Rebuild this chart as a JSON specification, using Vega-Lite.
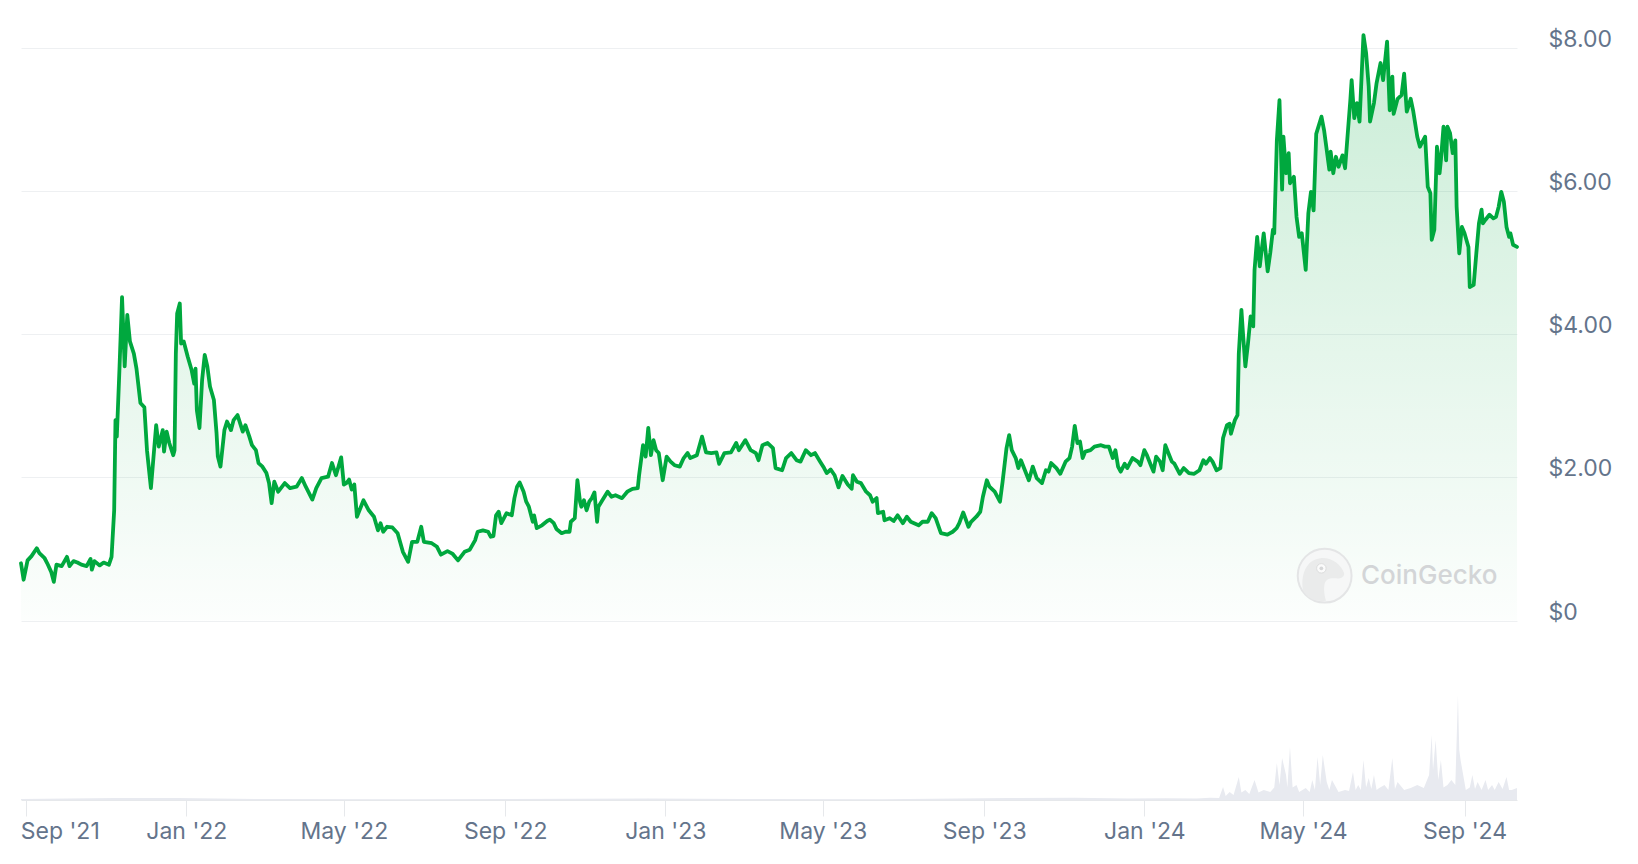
{
  "$schema": "https://vega.github.io/schema/vega-lite/v6.json",
  "width": 1496,
  "height": 780,
  "autosize": {"type": "none"},
  "padding": {"left": 21, "top": 20, "right": 121, "bottom": 64},
  "background": "#ffffff",
  "config": {"view": {"stroke": null}, "font": "Inter"},
  "datasets": {
    "price": [
      {"date": "2021-08-28", "price": 0.80}, {"date": "2021-08-30", "price": 0.57}, {"date": "2021-09-02", "price": 0.84},
      {"date": "2021-09-05", "price": 0.90}, {"date": "2021-09-09", "price": 1.01}, {"date": "2021-09-11", "price": 0.94},
      {"date": "2021-09-15", "price": 0.87}, {"date": "2021-09-17", "price": 0.80}, {"date": "2021-09-20", "price": 0.68},
      {"date": "2021-09-22", "price": 0.54}, {"date": "2021-09-24", "price": 0.78}, {"date": "2021-09-28", "price": 0.76},
      {"date": "2021-10-02", "price": 0.89}, {"date": "2021-10-04", "price": 0.76}, {"date": "2021-10-07", "price": 0.83},
      {"date": "2021-10-10", "price": 0.81}, {"date": "2021-10-13", "price": 0.78}, {"date": "2021-10-17", "price": 0.76},
      {"date": "2021-10-20", "price": 0.86}, {"date": "2021-10-21", "price": 0.71}, {"date": "2021-10-23", "price": 0.83},
      {"date": "2021-10-27", "price": 0.77}, {"date": "2021-10-30", "price": 0.81}, {"date": "2021-11-03", "price": 0.78},
      {"date": "2021-11-05", "price": 0.89}, {"date": "2021-11-07", "price": 1.54}, {"date": "2021-11-08", "price": 2.80},
      {"date": "2021-11-09", "price": 2.57}, {"date": "2021-11-11", "price": 3.50}, {"date": "2021-11-13", "price": 4.52},
      {"date": "2021-11-15", "price": 3.55}, {"date": "2021-11-17", "price": 4.27}, {"date": "2021-11-19", "price": 3.90},
      {"date": "2021-11-22", "price": 3.73}, {"date": "2021-11-24", "price": 3.52}, {"date": "2021-11-27", "price": 3.04},
      {"date": "2021-11-30", "price": 2.98}, {"date": "2021-12-02", "price": 2.38}, {"date": "2021-12-05", "price": 1.85},
      {"date": "2021-12-07", "price": 2.29}, {"date": "2021-12-09", "price": 2.73}, {"date": "2021-12-11", "price": 2.43},
      {"date": "2021-12-14", "price": 2.66}, {"date": "2021-12-15", "price": 2.36}, {"date": "2021-12-17", "price": 2.64},
      {"date": "2021-12-19", "price": 2.48}, {"date": "2021-12-22", "price": 2.31}, {"date": "2021-12-23", "price": 2.38},
      {"date": "2021-12-24", "price": 3.73}, {"date": "2021-12-25", "price": 4.29}, {"date": "2021-12-27", "price": 4.43},
      {"date": "2021-12-28", "price": 3.87}, {"date": "2021-12-30", "price": 3.90}, {"date": "2022-01-02", "price": 3.69},
      {"date": "2022-01-05", "price": 3.50}, {"date": "2022-01-07", "price": 3.31}, {"date": "2022-01-08", "price": 3.52},
      {"date": "2022-01-09", "price": 2.94}, {"date": "2022-01-11", "price": 2.69}, {"date": "2022-01-13", "price": 3.36},
      {"date": "2022-01-15", "price": 3.71}, {"date": "2022-01-17", "price": 3.55}, {"date": "2022-01-19", "price": 3.27},
      {"date": "2022-01-22", "price": 3.08}, {"date": "2022-01-24", "price": 2.62}, {"date": "2022-01-25", "price": 2.29},
      {"date": "2022-01-27", "price": 2.15}, {"date": "2022-01-30", "price": 2.66}, {"date": "2022-02-01", "price": 2.78},
      {"date": "2022-02-04", "price": 2.66}, {"date": "2022-02-06", "price": 2.80}, {"date": "2022-02-09", "price": 2.87},
      {"date": "2022-02-13", "price": 2.64}, {"date": "2022-02-15", "price": 2.73}, {"date": "2022-02-18", "price": 2.57},
      {"date": "2022-02-20", "price": 2.45}, {"date": "2022-02-23", "price": 2.38}, {"date": "2022-02-25", "price": 2.20},
      {"date": "2022-02-28", "price": 2.15}, {"date": "2022-03-03", "price": 2.06}, {"date": "2022-03-05", "price": 1.92},
      {"date": "2022-03-07", "price": 1.64}, {"date": "2022-03-09", "price": 1.94}, {"date": "2022-03-12", "price": 1.80},
      {"date": "2022-03-17", "price": 1.92}, {"date": "2022-03-21", "price": 1.85}, {"date": "2022-03-26", "price": 1.87},
      {"date": "2022-03-30", "price": 1.99}, {"date": "2022-04-02", "price": 1.87}, {"date": "2022-04-07", "price": 1.69},
      {"date": "2022-04-10", "price": 1.85}, {"date": "2022-04-14", "price": 1.99}, {"date": "2022-04-19", "price": 2.01},
      {"date": "2022-04-22", "price": 2.20}, {"date": "2022-04-25", "price": 2.03}, {"date": "2022-04-29", "price": 2.28},
      {"date": "2022-05-01", "price": 1.90}, {"date": "2022-05-03", "price": 1.92}, {"date": "2022-05-05", "price": 1.97},
      {"date": "2022-05-07", "price": 1.83}, {"date": "2022-05-09", "price": 1.90}, {"date": "2022-05-11", "price": 1.45},
      {"date": "2022-05-16", "price": 1.68}, {"date": "2022-05-20", "price": 1.54}, {"date": "2022-05-24", "price": 1.45},
      {"date": "2022-05-27", "price": 1.26}, {"date": "2022-05-29", "price": 1.36}, {"date": "2022-05-31", "price": 1.24},
      {"date": "2022-06-03", "price": 1.31}, {"date": "2022-06-07", "price": 1.30}, {"date": "2022-06-11", "price": 1.22},
      {"date": "2022-06-15", "price": 0.96}, {"date": "2022-06-19", "price": 0.82}, {"date": "2022-06-22", "price": 1.10},
      {"date": "2022-06-26", "price": 1.10}, {"date": "2022-06-29", "price": 1.31}, {"date": "2022-07-01", "price": 1.10},
      {"date": "2022-07-07", "price": 1.08}, {"date": "2022-07-11", "price": 1.03}, {"date": "2022-07-14", "price": 0.92},
      {"date": "2022-07-19", "price": 0.97}, {"date": "2022-07-23", "price": 0.93}, {"date": "2022-07-27", "price": 0.84},
      {"date": "2022-08-01", "price": 0.96}, {"date": "2022-08-05", "price": 0.99}, {"date": "2022-08-09", "price": 1.12},
      {"date": "2022-08-11", "price": 1.24}, {"date": "2022-08-15", "price": 1.26}, {"date": "2022-08-19", "price": 1.24},
      {"date": "2022-08-21", "price": 1.17}, {"date": "2022-08-23", "price": 1.18}, {"date": "2022-08-25", "price": 1.47},
      {"date": "2022-08-27", "price": 1.52}, {"date": "2022-08-29", "price": 1.36}, {"date": "2022-09-02", "price": 1.50},
      {"date": "2022-09-06", "price": 1.47}, {"date": "2022-09-08", "price": 1.71}, {"date": "2022-09-10", "price": 1.87},
      {"date": "2022-09-12", "price": 1.93}, {"date": "2022-09-15", "price": 1.80}, {"date": "2022-09-17", "price": 1.66},
      {"date": "2022-09-19", "price": 1.59}, {"date": "2022-09-22", "price": 1.38}, {"date": "2022-09-23", "price": 1.47},
      {"date": "2022-09-25", "price": 1.29}, {"date": "2022-09-29", "price": 1.33}, {"date": "2022-10-03", "price": 1.39},
      {"date": "2022-10-05", "price": 1.41}, {"date": "2022-10-08", "price": 1.36}, {"date": "2022-10-10", "price": 1.28},
      {"date": "2022-10-14", "price": 1.22}, {"date": "2022-10-17", "price": 1.24}, {"date": "2022-10-20", "price": 1.24},
      {"date": "2022-10-21", "price": 1.38}, {"date": "2022-10-24", "price": 1.43}, {"date": "2022-10-26", "price": 1.96},
      {"date": "2022-10-28", "price": 1.66}, {"date": "2022-10-29", "price": 1.59}, {"date": "2022-10-31", "price": 1.68},
      {"date": "2022-11-02", "price": 1.54}, {"date": "2022-11-04", "price": 1.66}, {"date": "2022-11-06", "price": 1.71},
      {"date": "2022-11-08", "price": 1.79}, {"date": "2022-11-10", "price": 1.38}, {"date": "2022-11-11", "price": 1.59},
      {"date": "2022-11-14", "price": 1.68}, {"date": "2022-11-18", "price": 1.80}, {"date": "2022-11-21", "price": 1.73},
      {"date": "2022-11-24", "price": 1.75}, {"date": "2022-11-29", "price": 1.71}, {"date": "2022-12-03", "price": 1.80},
      {"date": "2022-12-07", "price": 1.84}, {"date": "2022-12-11", "price": 1.85}, {"date": "2022-12-12", "price": 2.03},
      {"date": "2022-12-15", "price": 2.45}, {"date": "2022-12-17", "price": 2.29}, {"date": "2022-12-19", "price": 2.69},
      {"date": "2022-12-21", "price": 2.31}, {"date": "2022-12-23", "price": 2.52}, {"date": "2022-12-25", "price": 2.38},
      {"date": "2022-12-27", "price": 2.34}, {"date": "2022-12-30", "price": 1.96}, {"date": "2023-01-02", "price": 2.29},
      {"date": "2023-01-05", "price": 2.22}, {"date": "2023-01-08", "price": 2.17}, {"date": "2023-01-12", "price": 2.15},
      {"date": "2023-01-15", "price": 2.27}, {"date": "2023-01-18", "price": 2.34}, {"date": "2023-01-20", "price": 2.27},
      {"date": "2023-01-25", "price": 2.31}, {"date": "2023-01-29", "price": 2.57}, {"date": "2023-02-01", "price": 2.35},
      {"date": "2023-02-05", "price": 2.34}, {"date": "2023-02-09", "price": 2.35}, {"date": "2023-02-11", "price": 2.19},
      {"date": "2023-02-15", "price": 2.34}, {"date": "2023-02-20", "price": 2.35}, {"date": "2023-02-24", "price": 2.48},
      {"date": "2023-02-26", "price": 2.38}, {"date": "2023-03-03", "price": 2.52}, {"date": "2023-03-07", "price": 2.38},
      {"date": "2023-03-11", "price": 2.34}, {"date": "2023-03-13", "price": 2.24}, {"date": "2023-03-16", "price": 2.45},
      {"date": "2023-03-20", "price": 2.48}, {"date": "2023-03-24", "price": 2.41}, {"date": "2023-03-26", "price": 2.13},
      {"date": "2023-03-31", "price": 2.10}, {"date": "2023-04-03", "price": 2.27}, {"date": "2023-04-07", "price": 2.34},
      {"date": "2023-04-11", "price": 2.24}, {"date": "2023-04-14", "price": 2.22}, {"date": "2023-04-18", "price": 2.38},
      {"date": "2023-04-22", "price": 2.31}, {"date": "2023-04-25", "price": 2.34}, {"date": "2023-04-29", "price": 2.22},
      {"date": "2023-05-02", "price": 2.13}, {"date": "2023-05-04", "price": 2.06}, {"date": "2023-05-07", "price": 2.11},
      {"date": "2023-05-10", "price": 2.03}, {"date": "2023-05-13", "price": 1.86}, {"date": "2023-05-16", "price": 2.02},
      {"date": "2023-05-20", "price": 1.90}, {"date": "2023-05-23", "price": 1.84}, {"date": "2023-05-24", "price": 2.03},
      {"date": "2023-05-27", "price": 1.94}, {"date": "2023-05-30", "price": 1.92}, {"date": "2023-06-03", "price": 1.80},
      {"date": "2023-06-06", "price": 1.75}, {"date": "2023-06-08", "price": 1.66}, {"date": "2023-06-11", "price": 1.71},
      {"date": "2023-06-12", "price": 1.50}, {"date": "2023-06-16", "price": 1.52}, {"date": "2023-06-17", "price": 1.40},
      {"date": "2023-06-21", "price": 1.43}, {"date": "2023-06-24", "price": 1.39}, {"date": "2023-06-27", "price": 1.47},
      {"date": "2023-07-01", "price": 1.36}, {"date": "2023-07-04", "price": 1.45}, {"date": "2023-07-07", "price": 1.38},
      {"date": "2023-07-13", "price": 1.33}, {"date": "2023-07-16", "price": 1.38}, {"date": "2023-07-20", "price": 1.38},
      {"date": "2023-07-23", "price": 1.50}, {"date": "2023-07-26", "price": 1.43}, {"date": "2023-07-30", "price": 1.22},
      {"date": "2023-08-04", "price": 1.20}, {"date": "2023-08-08", "price": 1.24}, {"date": "2023-08-11", "price": 1.29},
      {"date": "2023-08-13", "price": 1.36}, {"date": "2023-08-16", "price": 1.51}, {"date": "2023-08-20", "price": 1.31},
      {"date": "2023-08-22", "price": 1.38}, {"date": "2023-08-26", "price": 1.45}, {"date": "2023-08-29", "price": 1.52},
      {"date": "2023-08-31", "price": 1.73}, {"date": "2023-09-03", "price": 1.96}, {"date": "2023-09-05", "price": 1.87},
      {"date": "2023-09-09", "price": 1.80}, {"date": "2023-09-13", "price": 1.66}, {"date": "2023-09-15", "price": 1.94},
      {"date": "2023-09-18", "price": 2.41}, {"date": "2023-09-20", "price": 2.59}, {"date": "2023-09-22", "price": 2.38},
      {"date": "2023-09-25", "price": 2.27}, {"date": "2023-09-27", "price": 2.13}, {"date": "2023-09-29", "price": 2.24},
      {"date": "2023-10-02", "price": 2.10}, {"date": "2023-10-05", "price": 1.96}, {"date": "2023-10-08", "price": 2.15},
      {"date": "2023-10-11", "price": 1.99}, {"date": "2023-10-15", "price": 1.92}, {"date": "2023-10-18", "price": 2.10},
      {"date": "2023-10-20", "price": 2.08}, {"date": "2023-10-22", "price": 2.20}, {"date": "2023-10-26", "price": 2.13},
      {"date": "2023-10-29", "price": 2.05}, {"date": "2023-11-02", "price": 2.22}, {"date": "2023-11-05", "price": 2.27},
      {"date": "2023-11-07", "price": 2.43}, {"date": "2023-11-09", "price": 2.72}, {"date": "2023-11-11", "price": 2.48},
      {"date": "2023-11-13", "price": 2.50}, {"date": "2023-11-15", "price": 2.27}, {"date": "2023-11-17", "price": 2.36},
      {"date": "2023-11-21", "price": 2.38}, {"date": "2023-11-24", "price": 2.43}, {"date": "2023-11-29", "price": 2.45},
      {"date": "2023-12-02", "price": 2.43}, {"date": "2023-12-05", "price": 2.43}, {"date": "2023-12-08", "price": 2.27},
      {"date": "2023-12-10", "price": 2.38}, {"date": "2023-12-12", "price": 2.15}, {"date": "2023-12-14", "price": 2.08},
      {"date": "2023-12-17", "price": 2.19}, {"date": "2023-12-19", "price": 2.13}, {"date": "2023-12-23", "price": 2.27},
      {"date": "2023-12-27", "price": 2.22}, {"date": "2023-12-29", "price": 2.17}, {"date": "2024-01-01", "price": 2.38},
      {"date": "2024-01-03", "price": 2.31}, {"date": "2024-01-06", "price": 2.17}, {"date": "2024-01-08", "price": 2.08},
      {"date": "2024-01-10", "price": 2.29}, {"date": "2024-01-13", "price": 2.22}, {"date": "2024-01-15", "price": 2.10},
      {"date": "2024-01-17", "price": 2.45}, {"date": "2024-01-20", "price": 2.31}, {"date": "2024-01-22", "price": 2.22},
      {"date": "2024-01-24", "price": 2.19}, {"date": "2024-01-28", "price": 2.05}, {"date": "2024-01-31", "price": 2.13},
      {"date": "2024-02-04", "price": 2.06}, {"date": "2024-02-08", "price": 2.05}, {"date": "2024-02-12", "price": 2.10},
      {"date": "2024-02-15", "price": 2.24}, {"date": "2024-02-17", "price": 2.19}, {"date": "2024-02-20", "price": 2.27},
      {"date": "2024-02-22", "price": 2.22}, {"date": "2024-02-25", "price": 2.10}, {"date": "2024-02-28", "price": 2.13},
      {"date": "2024-03-01", "price": 2.55}, {"date": "2024-03-04", "price": 2.73}, {"date": "2024-03-06", "price": 2.75},
      {"date": "2024-03-07", "price": 2.61}, {"date": "2024-03-10", "price": 2.80}, {"date": "2024-03-12", "price": 2.87},
      {"date": "2024-03-13", "price": 3.73}, {"date": "2024-03-15", "price": 4.34}, {"date": "2024-03-16", "price": 4.06},
      {"date": "2024-03-18", "price": 3.55}, {"date": "2024-03-20", "price": 3.87}, {"date": "2024-03-22", "price": 4.25},
      {"date": "2024-03-24", "price": 4.11}, {"date": "2024-03-25", "price": 4.90}, {"date": "2024-03-27", "price": 5.36},
      {"date": "2024-03-29", "price": 4.95}, {"date": "2024-03-30", "price": 5.11}, {"date": "2024-04-01", "price": 5.41},
      {"date": "2024-04-04", "price": 4.88}, {"date": "2024-04-06", "price": 5.14}, {"date": "2024-04-08", "price": 5.46},
      {"date": "2024-04-09", "price": 5.41}, {"date": "2024-04-11", "price": 6.71}, {"date": "2024-04-13", "price": 7.27},
      {"date": "2024-04-15", "price": 6.02}, {"date": "2024-04-16", "price": 6.76}, {"date": "2024-04-18", "price": 6.25},
      {"date": "2024-04-20", "price": 6.53}, {"date": "2024-04-21", "price": 6.11}, {"date": "2024-04-24", "price": 6.20},
      {"date": "2024-04-26", "price": 5.64}, {"date": "2024-04-28", "price": 5.36}, {"date": "2024-04-30", "price": 5.41},
      {"date": "2024-05-03", "price": 4.90}, {"date": "2024-05-05", "price": 5.69}, {"date": "2024-05-07", "price": 5.99},
      {"date": "2024-05-09", "price": 5.73}, {"date": "2024-05-11", "price": 6.80}, {"date": "2024-05-15", "price": 7.04},
      {"date": "2024-05-17", "price": 6.85}, {"date": "2024-05-21", "price": 6.30}, {"date": "2024-05-22", "price": 6.55},
      {"date": "2024-05-24", "price": 6.25}, {"date": "2024-05-26", "price": 6.48}, {"date": "2024-05-28", "price": 6.34},
      {"date": "2024-05-31", "price": 6.50}, {"date": "2024-06-02", "price": 6.32}, {"date": "2024-06-04", "price": 6.80},
      {"date": "2024-06-06", "price": 7.27}, {"date": "2024-06-07", "price": 7.55}, {"date": "2024-06-09", "price": 7.02},
      {"date": "2024-06-11", "price": 7.23}, {"date": "2024-06-13", "price": 6.97}, {"date": "2024-06-16", "price": 8.18},
      {"date": "2024-06-18", "price": 7.93}, {"date": "2024-06-20", "price": 7.46}, {"date": "2024-06-21", "price": 6.97},
      {"date": "2024-06-24", "price": 7.23}, {"date": "2024-06-26", "price": 7.51}, {"date": "2024-06-29", "price": 7.79},
      {"date": "2024-07-01", "price": 7.55}, {"date": "2024-07-02", "price": 7.74}, {"date": "2024-07-04", "price": 8.09},
      {"date": "2024-07-06", "price": 7.13}, {"date": "2024-07-08", "price": 7.60}, {"date": "2024-07-09", "price": 7.08},
      {"date": "2024-07-12", "price": 7.29}, {"date": "2024-07-15", "price": 7.34}, {"date": "2024-07-17", "price": 7.64},
      {"date": "2024-07-19", "price": 7.11}, {"date": "2024-07-22", "price": 7.29}, {"date": "2024-07-24", "price": 7.11},
      {"date": "2024-07-27", "price": 6.76}, {"date": "2024-07-29", "price": 6.62}, {"date": "2024-07-31", "price": 6.69},
      {"date": "2024-08-02", "price": 6.76}, {"date": "2024-08-04", "price": 6.06}, {"date": "2024-08-06", "price": 5.97},
      {"date": "2024-08-07", "price": 5.32}, {"date": "2024-08-09", "price": 5.46}, {"date": "2024-08-11", "price": 6.62},
      {"date": "2024-08-13", "price": 6.25}, {"date": "2024-08-14", "price": 6.43}, {"date": "2024-08-16", "price": 6.90},
      {"date": "2024-08-18", "price": 6.43}, {"date": "2024-08-19", "price": 6.90}, {"date": "2024-08-21", "price": 6.81},
      {"date": "2024-08-23", "price": 6.53}, {"date": "2024-08-25", "price": 6.71}, {"date": "2024-08-26", "price": 5.78},
      {"date": "2024-08-28", "price": 5.13}, {"date": "2024-08-30", "price": 5.50}, {"date": "2024-09-01", "price": 5.41},
      {"date": "2024-09-04", "price": 5.22}, {"date": "2024-09-05", "price": 4.66}, {"date": "2024-09-08", "price": 4.69},
      {"date": "2024-09-10", "price": 5.13}, {"date": "2024-09-12", "price": 5.55}, {"date": "2024-09-14", "price": 5.74},
      {"date": "2024-09-15", "price": 5.55}, {"date": "2024-09-17", "price": 5.60}, {"date": "2024-09-20", "price": 5.67},
      {"date": "2024-09-23", "price": 5.62}, {"date": "2024-09-25", "price": 5.64}, {"date": "2024-09-27", "price": 5.78},
      {"date": "2024-09-29", "price": 5.99}, {"date": "2024-10-01", "price": 5.85}, {"date": "2024-10-03", "price": 5.50},
      {"date": "2024-10-05", "price": 5.36}, {"date": "2024-10-06", "price": 5.41}, {"date": "2024-10-08", "price": 5.25},
      {"date": "2024-10-11", "price": 5.22}
    ],
    "volume": [
      {"date": "2021-08-28", "vol": 0.4}, {"date": "2021-11-08", "vol": 0.8}, {"date": "2021-12-25", "vol": 0.8},
      {"date": "2022-03-01", "vol": 0.4}, {"date": "2022-06-15", "vol": 0.3}, {"date": "2022-10-26", "vol": 0.5},
      {"date": "2022-12-19", "vol": 0.6}, {"date": "2023-03-01", "vol": 0.4}, {"date": "2023-06-15", "vol": 0.3},
      {"date": "2023-09-20", "vol": 0.8}, {"date": "2023-11-09", "vol": 0.9}, {"date": "2023-12-20", "vol": 0.6},
      {"date": "2024-01-17", "vol": 0.7}, {"date": "2024-02-10", "vol": 0.6}, {"date": "2024-02-20", "vol": 0.9},
      {"date": "2024-02-27", "vol": 0.8}, {"date": "2024-03-01", "vol": 5.2}, {"date": "2024-03-03", "vol": 1.6},
      {"date": "2024-03-06", "vol": 3.2}, {"date": "2024-03-09", "vol": 2.0}, {"date": "2024-03-13", "vol": 9.2},
      {"date": "2024-03-15", "vol": 3.0}, {"date": "2024-03-18", "vol": 4.0}, {"date": "2024-03-21", "vol": 2.4},
      {"date": "2024-03-25", "vol": 8.0}, {"date": "2024-03-28", "vol": 3.0}, {"date": "2024-04-01", "vol": 4.0},
      {"date": "2024-04-06", "vol": 3.2}, {"date": "2024-04-09", "vol": 5.0}, {"date": "2024-04-11", "vol": 14.8},
      {"date": "2024-04-13", "vol": 6.0}, {"date": "2024-04-15", "vol": 16.8}, {"date": "2024-04-18", "vol": 10.0},
      {"date": "2024-04-19", "vol": 5.0}, {"date": "2024-04-21", "vol": 21.2}, {"date": "2024-04-23", "vol": 5.0},
      {"date": "2024-04-26", "vol": 6.0}, {"date": "2024-04-28", "vol": 3.2}, {"date": "2024-05-03", "vol": 4.8},
      {"date": "2024-05-06", "vol": 3.2}, {"date": "2024-05-08", "vol": 8.0}, {"date": "2024-05-10", "vol": 4.0},
      {"date": "2024-05-12", "vol": 17.2}, {"date": "2024-05-14", "vol": 6.0}, {"date": "2024-05-16", "vol": 18.0},
      {"date": "2024-05-19", "vol": 7.2}, {"date": "2024-05-21", "vol": 4.0}, {"date": "2024-05-23", "vol": 8.0},
      {"date": "2024-05-28", "vol": 3.2}, {"date": "2024-06-02", "vol": 4.0}, {"date": "2024-06-05", "vol": 3.6},
      {"date": "2024-06-08", "vol": 11.2}, {"date": "2024-06-10", "vol": 4.0}, {"date": "2024-06-12", "vol": 6.0},
      {"date": "2024-06-14", "vol": 4.0}, {"date": "2024-06-16", "vol": 16.0}, {"date": "2024-06-18", "vol": 5.0},
      {"date": "2024-06-20", "vol": 8.8}, {"date": "2024-06-22", "vol": 4.4}, {"date": "2024-06-24", "vol": 10.0},
      {"date": "2024-06-26", "vol": 4.0}, {"date": "2024-06-28", "vol": 4.8}, {"date": "2024-07-02", "vol": 6.0},
      {"date": "2024-07-05", "vol": 4.0}, {"date": "2024-07-08", "vol": 16.8}, {"date": "2024-07-10", "vol": 4.4},
      {"date": "2024-07-12", "vol": 7.2}, {"date": "2024-07-17", "vol": 4.0}, {"date": "2024-07-22", "vol": 4.8},
      {"date": "2024-07-27", "vol": 6.0}, {"date": "2024-08-01", "vol": 4.8}, {"date": "2024-08-05", "vol": 10.0},
      {"date": "2024-08-07", "vol": 26.0}, {"date": "2024-08-08", "vol": 12.0}, {"date": "2024-08-10", "vol": 24.0},
      {"date": "2024-08-12", "vol": 8.0}, {"date": "2024-08-14", "vol": 16.0}, {"date": "2024-08-16", "vol": 5.0},
      {"date": "2024-08-19", "vol": 6.0}, {"date": "2024-08-22", "vol": 8.0}, {"date": "2024-08-25", "vol": 6.0},
      {"date": "2024-08-27", "vol": 42.0}, {"date": "2024-08-28", "vol": 20.0}, {"date": "2024-08-29", "vol": 16.0},
      {"date": "2024-09-02", "vol": 4.0}, {"date": "2024-09-05", "vol": 5.0}, {"date": "2024-09-07", "vol": 10.0},
      {"date": "2024-09-09", "vol": 4.4}, {"date": "2024-09-11", "vol": 7.2}, {"date": "2024-09-14", "vol": 4.0},
      {"date": "2024-09-17", "vol": 8.0}, {"date": "2024-09-19", "vol": 4.0}, {"date": "2024-09-22", "vol": 6.0},
      {"date": "2024-09-24", "vol": 4.0}, {"date": "2024-09-27", "vol": 7.2}, {"date": "2024-09-30", "vol": 4.4},
      {"date": "2024-10-03", "vol": 9.2}, {"date": "2024-10-05", "vol": 4.0}, {"date": "2024-10-07", "vol": 4.0},
      {"date": "2024-10-11", "vol": 4.8}
    ]
  },
  "layer": [
    {
      "data": {"name": "volume"},
      "mark": {"type": "area", "color": "#e8eaf0", "interpolate": "linear"},
      "encoding": {
        "x": {
          "field": "date",
          "type": "temporal",
          "scale": {"type": "utc", "domain": [{"year": 2021, "month": 8, "date": 28, "utc": true}, {"year": 2024, "month": 10, "date": 11, "utc": true}]},
          "axis": {
            "values": [
              {"year": 2021, "month": 9, "date": 1, "utc": true}, {"year": 2022, "month": 1, "date": 1, "utc": true},
              {"year": 2022, "month": 5, "date": 1, "utc": true}, {"year": 2022, "month": 9, "date": 1, "utc": true},
              {"year": 2023, "month": 1, "date": 1, "utc": true}, {"year": 2023, "month": 5, "date": 1, "utc": true},
              {"year": 2023, "month": 9, "date": 1, "utc": true}, {"year": 2024, "month": 1, "date": 1, "utc": true},
              {"year": 2024, "month": 5, "date": 1, "utc": true}, {"year": 2024, "month": 9, "date": 1, "utc": true}
            ],
            "labelExpr": "utcFormat(datum.value, \"%b '%y\")",
            "title": null,
            "grid": false,
            "domain": true,
            "domainColor": "#e6e8eb",
            "domainWidth": 1,
            "ticks": true,
            "tickColor": "#e6e8eb",
            "tickSize": 16,
            "labelFont": "Inter",
            "labelFontSize": 23,
            "labelColor": "#64748b",
            "labelPadding": 4,
            "labelFlush": 6,
            "labelFlushOffset": 6,
            "labelOverlap": false
          }
        },
        "y": {"field": "vol", "type": "quantitative", "scale": {"domain": [0, 312], "nice": false}, "axis": null}
      }
    },
    {
      "resolve": {"scale": {"y": "shared"}, "axis": {"y": "shared"}},
      "layer": [
        {
          "data": {"name": "price"},
          "mark": {
            "type": "area",
            "color": {
              "gradient": "linear", "x1": 0, "y1": 0, "x2": 0, "y2": 1,
              "stops": [
                {"offset": 0, "color": "rgba(0,168,62,0.21)"},
                {"offset": 1, "color": "rgba(0,168,62,0.01)"}
              ]
            }
          },
          "encoding": {
            "x": {"field": "date", "type": "temporal", "title": null},
            "y": {
              "field": "price", "type": "quantitative",
              "scale": {"domain": [-2.508, 8.391], "nice": false, "zero": false},
              "axis": {
                "orient": "right", "values": [0, 2, 4, 6, 8],
                "labelExpr": "datum.value == 0 ? '$0' : '$' + format(datum.value, '.2f')",
                "title": null, "grid": true, "gridColor": "#eef0f2", "gridWidth": 1,
                "domain": false, "ticks": false, "labelPadding": 31,
                "labelFont": "Inter", "labelFontSize": 23, "labelColor": "#64748b",
                "labelBaseline": "alphabetic", "labelOffset": -1.5
              }
            },
            "y2": {"datum": 0}
          }
        },
        {
          "data": {"name": "price"},
          "mark": {"type": "line", "color": "#00a83e", "strokeWidth": 3.8, "strokeJoin": "round", "strokeCap": "round"},
          "encoding": {
            "x": {"field": "date", "type": "temporal", "title": null},
            "y": {"field": "price", "type": "quantitative", "title": null}
          }
        },
        {
          "data": {"values": [{"label": "logo"}]},
          "mark": {"type": "point", "shape": "circle", "size": 2900, "filled": true, "fill": "#f6f7f7", "stroke": "#e4e5e6", "strokeWidth": 2, "opacity": 1},
          "encoding": {
            "x": {"datum": {"year": 2024, "month": 5, "date": 17, "hours": 10, "utc": true}, "type": "temporal", "title": null},
            "y": {"datum": 0.627, "type": "quantitative", "title": null}
          }
        },
        {
          "data": {"values": [{"label": "logo"}]},
          "mark": {
            "type": "point",
            "shape": "M -0.8 0.55 C -0.9 0 -0.7 -0.6 -0.15 -0.65 C 0.3 -0.68 0.6 -0.4 0.72 -0.1 C 0.75 0.05 0.6 0.12 0.4 0.1 C 0.2 0.08 0.05 0.12 0 0.3 C -0.05 0.5 0 0.75 0.05 0.93 C -0.35 0.98 -0.65 0.85 -0.8 0.55 Z",
            "size": 2900, "filled": true, "fill": "#eaebeb", "strokeWidth": 0, "opacity": 1
          },
          "encoding": {
            "x": {"datum": {"year": 2024, "month": 5, "date": 17, "hours": 10, "utc": true}, "type": "temporal", "title": null},
            "y": {"datum": 0.627, "type": "quantitative", "title": null}
          }
        },
        {
          "data": {"values": [{"label": "logo"}]},
          "mark": {"type": "point", "shape": "circle", "size": 90, "filled": true, "fill": "#fbfbfb", "stroke": "#dcdddd", "strokeWidth": 1, "opacity": 1},
          "encoding": {
            "x": {"datum": {"year": 2024, "month": 5, "date": 14, "hours": 22, "utc": true}, "type": "temporal", "title": null},
            "y": {"datum": 0.729, "type": "quantitative", "title": null}
          }
        },
        {
          "data": {"values": [{"label": "logo"}]},
          "mark": {"type": "point", "shape": "circle", "size": 14, "filled": true, "fill": "#d6d7d8", "opacity": 1},
          "encoding": {
            "x": {"datum": {"year": 2024, "month": 5, "date": 14, "hours": 22, "utc": true}, "type": "temporal", "title": null},
            "y": {"datum": 0.729, "type": "quantitative", "title": null}
          }
        },
        {
          "data": {"values": [{"label": "CoinGecko"}]},
          "mark": {"type": "text", "align": "left", "baseline": "middle", "font": "Inter", "fontSize": 26, "fontWeight": 500, "color": "#d3d5d7"},
          "encoding": {
            "x": {"datum": {"year": 2024, "month": 6, "date": 14, "hours": 3, "utc": true}, "type": "temporal", "title": null},
            "y": {"datum": 0.627, "type": "quantitative", "title": null},
            "text": {"field": "label", "type": "nominal"}
          }
        }
      ]
    }
  ],
  "resolve": {"scale": {"y": "independent"}}
}
